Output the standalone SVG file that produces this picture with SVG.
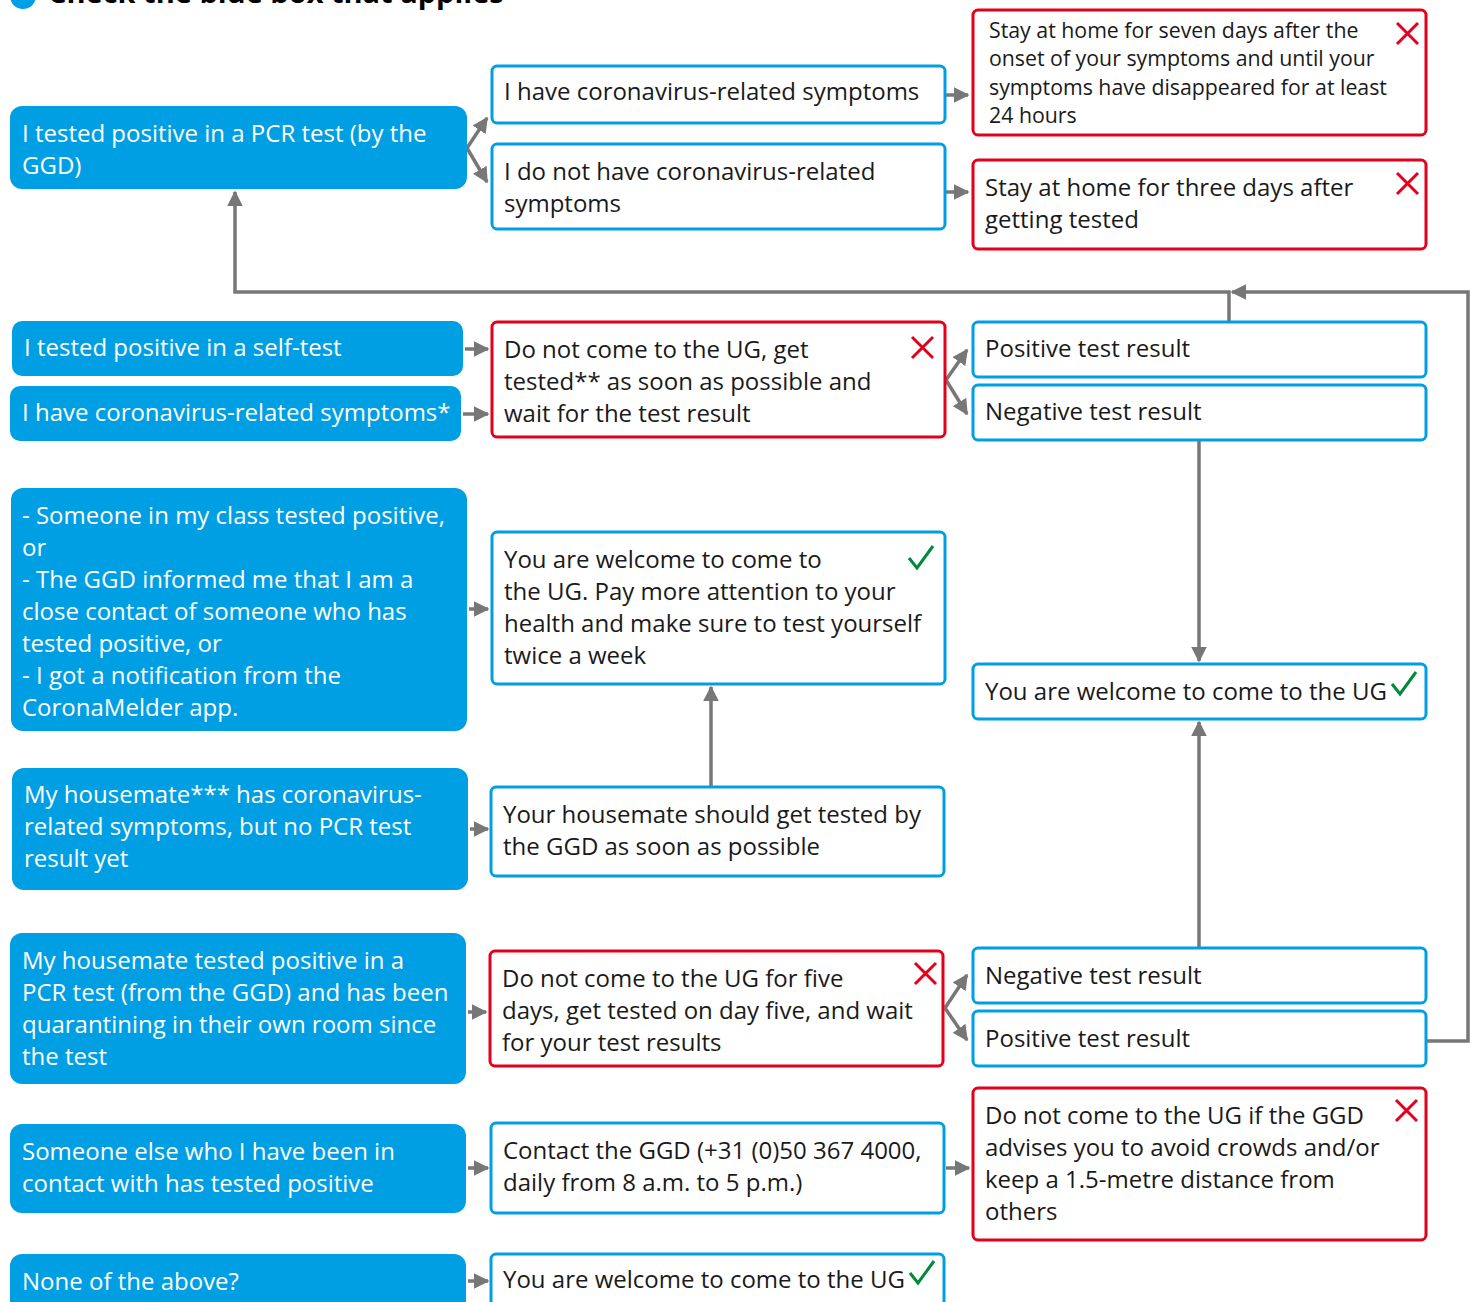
<svg xmlns="http://www.w3.org/2000/svg" width="1475" height="1302" viewBox="0 0 1475 1302">
<defs>
<style>
text{font-family:"Open Sans","Noto Sans","Liberation Sans",sans-serif;font-size:24px;fill:#1a1a1a}
.bl rect{fill:#009FE3}
.bl text{fill:#fff}
.bo rect{fill:#fff;stroke:#009FE3;stroke-width:3}
.rd rect{fill:#fff;stroke:#E2001A;stroke-width:3}
.cn{fill:none;stroke:#777;stroke-width:3.5}
.x{stroke:#E2001A;stroke-width:3;fill:none}
.ck{stroke:#008A3A;stroke-width:3;fill:none}
.sm{font-size:21.3px}
</style>
<marker id="ah" viewBox="0 0 10 10" refX="9" refY="5" markerWidth="4.5" markerHeight="4.5" orient="auto" markerUnits="strokeWidth">
<path d="M0,0L10,5L0,10z" fill="#777"/>
</marker>
</defs>
<rect width="1475" height="1302" fill="#fff"/>
<g id="title">
<circle cx="23" cy="-4" r="13" fill="#009FE3"/>
<text x="48" y="3" style="font-weight:bold;font-size:29px;fill:#000">Check the blue box that applies</text>
</g>
<g id="connectors">
<path class="cn" d="M467,148L487,118" marker-end="url(#ah)"/>
<path class="cn" d="M467,148L487,182" marker-end="url(#ah)"/>
<path class="cn" d="M946,95H968" marker-end="url(#ah)"/>
<path class="cn" d="M946,192H968" marker-end="url(#ah)"/>
<path class="cn" d="M1229,322V292H235V192" marker-end="url(#ah)"/>
<path class="cn" d="M1426,1041H1468V292H1232" marker-end="url(#ah)"/>
<path class="cn" d="M465,349H488" marker-end="url(#ah)"/>
<path class="cn" d="M463,414H488" marker-end="url(#ah)"/>
<path class="cn" d="M946,380L967,350" marker-end="url(#ah)"/>
<path class="cn" d="M946,380L967,414" marker-end="url(#ah)"/>
<path class="cn" d="M1199,440V661" marker-end="url(#ah)"/>
<path class="cn" d="M469,609H488" marker-end="url(#ah)"/>
<path class="cn" d="M711,787V687" marker-end="url(#ah)"/>
<path class="cn" d="M470,829H488" marker-end="url(#ah)"/>
<path class="cn" d="M1199,948V722" marker-end="url(#ah)"/>
<path class="cn" d="M468,1012H486" marker-end="url(#ah)"/>
<path class="cn" d="M945,1008L967,975" marker-end="url(#ah)"/>
<path class="cn" d="M945,1008L967,1040" marker-end="url(#ah)"/>
<path class="cn" d="M468,1168H488" marker-end="url(#ah)"/>
<path class="cn" d="M946,1168H969" marker-end="url(#ah)"/>
<path class="cn" d="M468,1281H488" marker-end="url(#ah)"/>
</g>
<g id="b1" class="bl"><rect x="10" y="106" width="457" height="83" rx="12"/><text x="22" y="142">I tested positive in a PCR test (by the</text><text x="22" y="174">GGD)</text></g>
<g id="b2" class="bl"><rect x="12" y="321" width="451" height="55" rx="10"/><text x="24" y="356">I tested positive in a self-test</text></g>
<g id="b3" class="bl"><rect x="10" y="386" width="451" height="55" rx="10"/><text x="22" y="421">I have coronavirus-related symptoms*</text></g>
<g id="b4" class="bl"><rect x="11" y="488" width="456" height="243" rx="12"/><text x="22" y="524">- Someone in my class tested positive,</text><text x="22" y="556">or</text><text x="22" y="588">- The GGD informed me that I am a</text><text x="22" y="620">close contact of someone who has</text><text x="22" y="652">tested positive, or</text><text x="22" y="684">- I got a notification from the</text><text x="22" y="716">CoronaMelder app.</text></g>
<g id="b5" class="bl"><rect x="12" y="768" width="456" height="122" rx="12"/><text x="24" y="803">My housemate*** has coronavirus-</text><text x="24" y="835">related symptoms, but no PCR test</text><text x="24" y="867">result yet</text></g>
<g id="b6" class="bl"><rect x="10" y="933" width="456" height="151" rx="12"/><text x="22" y="969">My housemate tested positive in a</text><text x="22" y="1001">PCR test (from the GGD) and has been</text><text x="22" y="1033">quarantining in their own room since</text><text x="22" y="1065">the test</text></g>
<g id="b7" class="bl"><rect x="10" y="1124" width="456" height="89" rx="12"/><text x="22" y="1160">Someone else who I have been in</text><text x="22" y="1192">contact with has tested positive</text></g>
<g id="b8" class="bl"><rect x="10" y="1254" width="456" height="70" rx="12"/><text x="22" y="1290">None of the above?</text></g>
<g id="mA" class="bo"><rect x="492" y="66" width="453" height="57" rx="5"/><text x="504" y="100">I have coronavirus-related symptoms</text></g>
<g id="mB" class="bo"><rect x="492" y="144" width="453" height="85" rx="5"/><text x="504" y="180">I do not have coronavirus-related</text><text x="504" y="212">symptoms</text></g>
<g id="mC" class="rd"><rect x="492" y="322" width="453" height="115" rx="5"/><text x="504" y="358">Do not come to the UG, get</text><text x="504" y="390">tested** as soon as possible and</text><text x="504" y="422">wait for the test result</text><path class="x" d="M912,337l21,21M933,337l-21,21"/></g>
<g id="mD" class="bo"><rect x="492" y="532" width="453" height="152" rx="5"/><text x="504" y="568">You are welcome to come to</text><text x="504" y="600">the UG. Pay more attention to your</text><text x="504" y="632">health and make sure to test yourself</text><text x="504" y="664">twice a week</text><path class="ck" d="M909,558l8,10l16,-22"/></g>
<g id="mE" class="bo"><rect x="491" y="787" width="453" height="89" rx="5"/><text x="503" y="823">Your housemate should get tested by</text><text x="503" y="855">the GGD as soon as possible</text></g>
<g id="mF" class="rd"><rect x="490" y="951" width="453" height="115" rx="5"/><text x="502" y="987">Do not come to the UG for five</text><text x="502" y="1019">days, get tested on day five, and wait</text><text x="502" y="1051">for your test results</text><path class="x" d="M915,963l21,21M936,963l-21,21"/></g>
<g id="mG" class="bo"><rect x="491" y="1123" width="453" height="90" rx="5"/><text x="503" y="1159">Contact the GGD (+31 (0)50 367 4000,</text><text x="503" y="1191">daily from 8 a.m. to 5 p.m.)</text></g>
<g id="mH" class="bo"><rect x="491" y="1254" width="453" height="70" rx="5"/><text x="503" y="1288">You are welcome to come to the UG</text><path class="ck" d="M910,1273l8,10l16,-22"/></g>
<g id="r1" class="rd"><rect x="973" y="10" width="453" height="125" rx="5"/><text class="sm" x="989" y="38">Stay at home for seven days after the</text><text class="sm" x="989" y="66">onset of your symptoms and until your</text><text class="sm" x="989" y="95">symptoms have disappeared for at least</text><text class="sm" x="989" y="123">24 hours</text><path class="x" d="M1397,23l21,21M1418,23l-21,21"/></g>
<g id="r2" class="rd"><rect x="973" y="160" width="453" height="89" rx="5"/><text x="985" y="196">Stay at home for three days after</text><text x="985" y="228">getting tested</text><path class="x" d="M1397,173l21,21M1418,173l-21,21"/></g>
<g id="r3" class="bo"><rect x="973" y="322" width="453" height="55" rx="5"/><text x="985" y="357">Positive test result</text></g>
<g id="r4" class="bo"><rect x="973" y="385" width="453" height="55" rx="5"/><text x="985" y="420">Negative test result</text></g>
<g id="r5" class="bo"><rect x="973" y="664" width="453" height="55" rx="5"/><text x="985" y="700">You are welcome to come to the UG</text><path class="ck" d="M1392,684l8,10l16,-22"/></g>
<g id="r6" class="bo"><rect x="973" y="948" width="453" height="55" rx="5"/><text x="985" y="984">Negative test result</text></g>
<g id="r7" class="bo"><rect x="973" y="1011" width="453" height="55" rx="5"/><text x="985" y="1047">Positive test result</text></g>
<g id="r8" class="rd"><rect x="973" y="1088" width="453" height="152" rx="5"/><text x="985" y="1124">Do not come to the UG if the GGD</text><text x="985" y="1156">advises you to avoid crowds and/or</text><text x="985" y="1188">keep a 1.5-metre distance from</text><text x="985" y="1220">others</text><path class="x" d="M1396,1100l21,21M1417,1100l-21,21"/></g>
</svg>
